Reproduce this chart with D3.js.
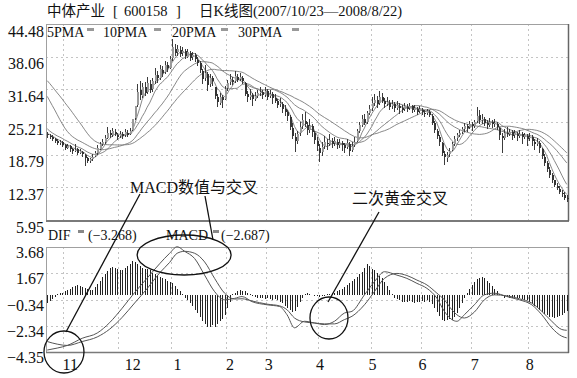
<!DOCTYPE html>
<html>
<head>
<meta charset="utf-8">
<title>中体产业 日K线图</title>
<script src="https://cdn.jsdelivr.net/npm/d3@7/dist/d3.min.js"></script>
<style>
  html, body { margin: 0; padding: 0; background: #fff; }
  svg { display: block; }
  text { font-family: "Liberation Serif", "Noto Sans CJK SC", serif; fill: #111; }
  .cjk { font-family: "Noto Sans CJK SC", sans-serif; }
</style>
</head>
<body>
<svg id="chart" width="577" height="378"></svg>
<script>
// trading days per month, 2007/10 .. 2008/8
const monthDays = [7, 22, 21, 22, 16, 21, 21, 20, 20, 23, 16];
const monthLabels = ['11', '12', '1', '2', '3', '4', '5', '6', '7', '8'];
const monthLabelDays = [9, 34, 52, 73, 88.5, 109, 130, 150, 171, 193];
const priceTicks = [5.95, 12.37, 18.79, 25.21, 31.64, 38.06, 44.48];
const macdTicks = [-4.35, -2.34, -0.34, 1.67, 3.68];

// closes before 2007/10/23 (only used to warm up the moving averages)
const priorClose = [39.2, 39.8, 40.3, 39.5, 38.9, 39.6, 40.1, 39.4, 38.8, 39.5,
  40.2, 39.7, 39.1, 39.6, 40.0, 38.0, 36.2, 33.8, 31.0, 28.6,
  26.8, 25.5, 24.5, 23.9, 23.6, 23.1, 23.3, 22.9, 22.7];

const open = [
  22.9,22.5,22.2,21.9,21.4,21.0,21.2,20.7,20.1,20.4,
  19.9,19.5,19.9,19.1,19.4,18.8,18.1,17.5,17.9,18.5,
  19.1,20.0,20.9,21.3,22.1,23.0,22.7,23.3,22.7,22.4,
  22.8,22.6,23.1,22.8,23.7,26.0,28.6,31.6,30.4,32.0,
  31.2,32.6,31.8,33.3,34.4,33.9,35.5,35.0,36.5,35.9,
  37.8,39.6,38.9,39.4,38.7,39.1,38.0,38.8,37.9,38.3,
  37.5,36.8,35.2,33.8,34.6,32.6,33.8,32.0,30.2,29.0,
  30.1,29.8,31.9,33.0,33.5,33.2,34.1,33.6,33.9,32.9,
  30.7,30.2,30.5,29.8,30.3,31.0,31.1,30.6,31.3,30.3,
  30.7,29.9,29.3,28.7,28.8,27.7,27.1,26.2,24.0,22.3,
  21.5,23.0,24.4,25.5,24.7,23.7,24.4,23.0,21.5,20.2,
  19.3,20.4,21.1,20.9,21.5,21.0,21.3,20.7,21.0,20.6,
  20.3,20.9,19.7,20.6,21.5,23.5,24.7,25.9,25.2,27.0,
  27.9,29.0,29.5,28.9,30.1,29.3,28.8,29.0,28.3,28.7,
  28.0,28.4,27.9,27.7,28.2,27.9,28.3,27.6,27.8,27.3,
  27.6,27.0,26.9,27.2,26.4,25.0,23.5,22.3,21.0,19.0,
  18.2,18.9,19.8,20.9,22.0,22.7,23.2,23.9,24.4,24.2,
  24.8,24.5,25.4,26.5,25.7,25.8,25.0,24.7,25.2,24.9,
  24.9,24.1,22.5,22.1,23.0,22.9,23.2,22.6,22.9,22.5,
  22.8,22.3,22.5,22.0,22.2,21.3,20.9,21.1,19.9,18.4,
  17.1,15.8,14.7,13.8,12.7,12.1,11.3,10.9,10.3];

const high = [
  23.2,22.9,22.6,22.1,21.8,21.7,21.4,20.9,20.9,20.6,
  20.2,20.9,20.1,19.9,19.6,18.9,18.4,18.2,18.9,19.6,
  20.6,21.3,21.9,22.6,24.2,23.6,24.0,23.8,23.1,23.4,
  23.2,23.9,23.6,24.1,25.9,28.4,32.6,33.2,32.8,33.0,
  34.0,33.4,33.9,35.8,35.2,36.5,36.3,37.2,37.0,38.2,
  41.6,40.6,40.3,40.2,40.0,39.6,39.5,39.2,39.0,38.8,
  38.0,37.2,35.6,36.4,35.1,34.6,34.3,32.1,30.8,30.9,
  30.6,32.2,33.4,34.6,34.1,35.2,34.7,34.8,34.2,33.1,
  31.4,31.7,31.0,31.2,31.5,32.1,31.6,32.0,31.8,31.5,
  31.1,30.7,29.8,30.0,29.2,28.6,27.6,26.5,25.0,23.1,
  23.4,25.2,26.8,27.2,25.3,25.9,24.8,23.4,22.2,20.9,
  21.2,22.4,21.9,22.9,22.0,22.3,21.8,21.8,21.5,21.1,
  21.8,21.3,21.2,22.2,23.9,25.3,26.6,26.8,27.4,28.6,
  30.1,30.8,30.4,31.3,31.0,29.9,30.1,29.5,29.6,29.2,
  29.4,28.9,28.5,29.0,28.7,29.0,28.6,28.5,28.2,28.3,
  28.0,27.5,27.8,27.6,26.7,25.4,23.9,22.7,21.3,19.5,
  19.3,20.1,21.3,22.5,23.1,23.7,24.3,25.0,24.9,25.5,
  25.3,25.6,28.2,27.6,26.8,26.2,25.7,26.0,25.7,25.8,
  25.3,24.2,23.0,23.8,24.2,23.9,23.6,23.7,23.3,23.6,
  23.2,23.1,22.9,23.0,22.6,21.8,22.0,21.5,20.2,18.9,
  17.5,16.3,15.1,13.9,13.3,12.6,11.9,11.4,10.8];

const low = [
  22.1,21.8,21.4,21.0,20.6,20.7,20.3,19.8,19.9,19.4,
  19.0,19.3,18.8,18.9,18.3,16.6,17.1,17.2,17.6,18.3,
  18.8,19.7,20.4,20.9,21.8,22.1,22.3,22.4,21.6,22.0,
  21.9,22.3,22.2,22.6,23.5,25.6,28.1,29.6,30.0,30.3,
  30.8,30.9,31.2,32.6,32.9,33.5,34.0,34.6,35.0,35.6,
  37.2,38.1,38.2,38.0,38.2,37.6,37.7,37.3,37.4,37.0,
  36.3,34.8,32.6,33.2,31.4,32.0,32.2,29.8,28.2,28.6,
  27.9,29.5,31.4,32.5,32.4,32.9,33.0,33.2,32.6,30.3,
  29.2,29.6,28.4,29.3,29.9,30.4,29.8,30.1,29.6,29.9,
  28.8,28.9,27.9,28.2,27.0,26.3,25.4,23.6,21.8,19.4,
  20.9,22.4,23.8,24.2,22.6,23.1,22.2,20.8,19.6,17.3,
  18.6,20.0,19.8,20.5,20.1,20.4,19.9,20.2,19.6,19.2,
  19.9,18.5,19.3,20.3,21.2,23.0,24.2,24.6,24.9,26.5,
  27.4,28.3,28.0,28.5,28.9,27.9,28.3,27.6,27.8,27.2,
  27.5,26.8,27.0,27.3,27.1,27.5,26.9,27.1,26.6,26.9,
  26.5,26.2,26.5,26.1,24.6,23.1,21.8,20.4,18.6,16.8,
  17.4,18.4,19.5,20.5,21.4,22.2,22.9,23.3,23.2,23.8,
  23.5,24.1,25.0,24.9,24.8,24.4,23.9,24.2,24.0,24.3,
  23.6,21.6,19.2,21.6,22.2,22.4,21.7,22.1,21.5,22.0,
  20.9,21.8,20.4,21.5,20.5,19.8,20.4,19.1,18.0,16.6,
  15.4,14.3,13.2,12.4,11.8,11.0,10.5,9.8,9.5];

const close = [
  22.6,22.3,21.8,21.5,21.0,21.3,20.6,20.2,20.5,19.9,
  19.6,19.8,19.2,19.5,18.9,18.2,17.6,17.9,18.4,19.2,
  20.1,20.8,21.2,22.0,23.1,22.6,23.4,22.8,22.3,22.9,
  22.5,23.2,22.7,23.5,25.8,28.4,31.2,30.5,32.1,31.0,
  32.8,31.6,33.2,34.5,33.8,35.6,34.9,36.4,35.8,37.6,
  39.9,38.8,39.5,38.6,39.2,38.1,38.9,37.8,38.4,37.6,
  36.9,35.4,33.6,34.8,32.5,33.9,33.2,30.4,29.1,30.2,
  29.6,31.8,32.9,33.6,33.1,34.2,33.5,34.0,33.2,30.8,
  30.1,30.6,29.7,30.4,30.9,31.2,30.5,31.4,30.2,30.8,
  30.0,29.4,28.6,28.9,27.8,27.2,26.4,24.2,22.5,21.4,
  22.8,24.3,25.6,24.8,23.6,24.5,23.2,21.6,20.4,19.2,
  20.3,21.2,20.8,21.6,20.9,21.4,20.6,21.1,20.7,20.2,
  21.0,19.6,20.5,21.3,23.4,24.6,25.8,25.1,26.9,27.8,
  28.9,29.6,28.8,30.2,29.4,28.7,29.1,28.2,28.8,27.9,
  28.5,28.0,27.6,28.3,27.8,28.4,27.5,27.9,27.2,27.7,
  27.1,26.8,27.3,26.6,25.1,23.6,22.4,21.2,19.1,18.3,
  18.8,19.6,20.8,21.9,22.6,23.1,23.8,24.5,24.1,24.9,
  24.4,25.2,26.4,25.6,25.9,25.1,24.6,25.3,24.8,25.0,
  24.3,22.6,22.0,23.1,22.8,23.3,22.5,23.0,22.4,22.9,
  22.2,22.6,21.9,22.3,21.4,20.8,21.2,20.1,18.5,17.2,
  15.9,14.8,13.9,12.8,12.2,11.4,11.0,10.3,10.0];

// MACD histogram, one bar per trading day
const macdBar = [
  -0.6,-0.45,-0.3,-0.15,0.1,0.15,0.2,0.3,0.4,0.5,
  0.6,0.7,0.75,0.72,0.65,0.55,0.45,0.4,0.4,0.6,
  0.85,1.1,1.35,1.6,1.85,2.05,2.15,2.1,2.0,1.9,
  1.95,2.05,2.2,2.4,2.6,2.5,2.4,2.2,2.1,2.0,
  2.0,1.9,1.7,1.6,1.5,1.4,1.3,1.2,1.1,1.0,
  0.9,0.7,0.5,0.3,0.1,-0.2,-0.4,-0.6,-0.8,-1.1,
  -1.4,-1.7,-2.0,-2.2,-2.4,-2.4,-2.3,-2.4,-2.2,-2.0,
  -1.8,-1.5,-1.0,-0.5,0.05,0.2,0.35,0.4,0.35,0.3,
  0.2,0.1,-0.1,-0.15,-0.2,-0.25,-0.2,-0.3,-0.25,-0.3,
  -0.35,-0.3,-0.4,-0.5,-0.6,-0.8,-1.0,-1.1,-1.3,-1.2,
  -0.9,-0.5,-0.2,0.1,0.15,0.1,0.0,-0.05,-0.1,-0.15,
  -0.1,-0.05,0.05,0.1,0.15,0.2,0.3,0.4,0.5,0.6,
  0.75,0.9,1.05,1.2,1.4,1.6,1.8,2.1,2.4,2.2,
  2.0,1.9,1.7,1.5,1.3,1.0,0.7,0.4,0.1,-0.2,
  -0.3,-0.4,-0.5,-0.55,-0.5,-0.45,-0.5,-0.6,-0.55,-0.5,
  -0.45,-0.5,-0.4,-0.5,-0.7,-1.0,-1.3,-1.6,-1.9,-2.0,
  -1.9,-1.8,-1.9,-1.7,-1.4,-1.0,-0.6,-0.2,0.2,0.5,
  0.8,1.0,1.2,1.3,1.4,1.3,1.1,0.9,0.7,0.5,
  0.3,0.1,-0.1,-0.2,-0.15,-0.25,-0.2,-0.15,-0.25,-0.2,
  -0.3,-0.35,-0.4,-0.5,-0.7,-0.85,-1.0,-1.15,-1.3,-1.45,
  -1.55,-1.65,-1.7,-1.75,-1.7,-1.6,-1.5,-1.35,-1.2];

// DIF / DEA read at these trading days
const lineDays = [0, 4, 8, 14, 20, 25, 30, 35, 40, 45, 49, 52, 55, 59, 63, 67, 71, 75, 78, 82,
  88, 93, 96, 99, 103, 107, 111, 115, 119, 122, 127, 131, 135, 140, 144, 148, 152, 156, 159, 162,
  164, 167, 171, 175, 179, 184, 189, 194, 198, 202, 206, 208];
const dif = [-4.2, -4.05, -3.85, -3.3, -2.9, -2.1, -1.0, 0.2, 1.3, 2.4, 3.2, 3.7, 3.35, 2.8, 1.53, 0.27, -0.36, -0.25, -0.11, -0.5,
  -0.74, -0.87, -1.5, -2.5, -2.0, -2.13, -2.25, -2.0, -1.37, -1.24, 0.02, 1.03, 1.79, 1.53, 1.28, 0.9, 0.52, -0.23, -1.24, -1.87,
  -2.0, -1.5, -0.74, 0.02, 0.15, -0.11, -0.36, -0.74, -1.5, -2.5, -3.14, -3.27];
const dea = [-3.55, -3.75, -3.85, -3.55, -3.2, -2.6, -1.7, -0.6, 0.5, 1.7, 2.5, 3.2, 3.35, 3.2, 2.54, 1.28, 0.15, -0.3, -0.28, -0.45,
  -0.69, -0.82, -1.12, -1.75, -2.05, -2.13, -2.2, -2.2, -1.87, -1.62, -0.74, 0.27, 1.28, 1.66, 1.5, 1.15, 0.78, 0.15, -0.36, -1.12,
  -1.5, -1.75, -1.3, -0.36, 0.02, -0.05, -0.28, -0.61, -1.24, -2.0, -2.63, -2.69];

const maPeriods = [5, 10, 20, 30];

const svg = d3.select('#chart');
const nDays = close.length;
const days = d3.range(nDays);
const left = 46, right = 568;

const xc = d3.scaleLinear().domain([-0.5, nDays - 0.5]).range([left, right]);
const yP = d3.scaleLinear().domain([5.95, 44.48]).range([220, 24]);
const yM = d3.scaleLinear().domain([-4.35, 3.68]).range([352, 247]);

const monthStarts = Array.from(d3.cumsum(monthDays)).slice(0, -1);

// dashed grid for a panel
function drawGrid(y, ticks) {
  const g = svg.append('g')
    .attr('stroke', '#c4c4c4')
    .attr('stroke-dasharray', '2,3')
    .attr('stroke-width', 1);
  g.selectAll('line.h').data(ticks.slice(1, -1)).join('line')
    .attr('class', 'h')
    .attr('x1', left).attr('x2', right)
    .attr('y1', d => Math.round(y(d)) + 0.5).attr('y2', d => Math.round(y(d)) + 0.5);
  g.selectAll('line.v').data(monthStarts).join('line')
    .attr('class', 'v')
    .attr('x1', d => Math.round(xc(d - 0.5)) + 0.5).attr('x2', d => Math.round(xc(d - 0.5)) + 0.5)
    .attr('y1', y.range()[1]).attr('y2', y.range()[0]);
}
drawGrid(yP, priceTicks);
drawGrid(yM, macdTicks);

// panel frames
svg.append('rect').attr('x', left + 0.5).attr('y', 24.5).attr('width', right - left).attr('height', 196)
  .attr('fill', 'none').attr('stroke', '#a0a0a0');
svg.append('rect').attr('x', left + 0.5).attr('y', 247.5).attr('width', right - left).attr('height', 105)
  .attr('fill', 'none').attr('stroke', '#a0a0a0');
svg.append('line').attr('x1', left).attr('x2', right + 1).attr('y1', 221).attr('y2', 221)
  .attr('stroke', '#7a7a7a').attr('stroke-width', 2);
svg.append('line').attr('x1', left).attr('x2', right + 1).attr('y1', 352.5).attr('y2', 352.5)
  .attr('stroke', '#7a7a7a').attr('stroke-width', 1.5);
[[24, 221], [247, 353]].forEach(([a, b]) => {
  svg.append('line').attr('x1', right + 0.5).attr('x2', right + 0.5).attr('y1', a).attr('y2', b)
    .attr('stroke', '#666').attr('stroke-width', 1.5);
});

// moving averages
const allClose = priorClose.concat(close);
const off = priorClose.length;
const maLine = d3.line().x((d, i) => xc(i)).y(d => yP(d));
maPeriods.forEach(n => {
  const vals = days.map(i => d3.mean(allClose.slice(off + i - n + 1, off + i + 1)));
  svg.append('path').datum(vals)
    .attr('d', maLine)
    .attr('fill', 'none')
    .attr('stroke', '#7a7a7a')
    .attr('stroke-width', 0.9);
});

// candles
const cg = svg.append('g').attr('shape-rendering', 'crispEdges');
cg.selectAll('line').data(days).join('line')
  .attr('x1', i => Math.round(xc(i)) + 0.5).attr('x2', i => Math.round(xc(i)) + 0.5)
  .attr('y1', i => yP(high[i])).attr('y2', i => yP(low[i]))
  .attr('stroke', '#3c3c3c').attr('stroke-width', 1);
cg.selectAll('rect').data(days).join('rect')
  .attr('x', i => Math.round(xc(i)) - 0.5).attr('width', 2)
  .attr('y', i => yP(Math.max(open[i], close[i])))
  .attr('height', i => Math.max(1, Math.abs(yP(open[i]) - yP(close[i]))))
  .attr('fill', i => close[i] >= open[i] ? '#9a9a9a' : '#333');

// MACD histogram
svg.append('g').attr('shape-rendering', 'crispEdges')
  .selectAll('line').data(days).join('line')
  .attr('x1', i => Math.round(xc(i)) + 0.5).attr('x2', i => Math.round(xc(i)) + 0.5)
  .attr('y1', yM(0)).attr('y2', i => yM(macdBar[i]))
  .attr('stroke', '#222').attr('stroke-width', 1);

// DIF / DEA
const mLine = d3.line().x((d, k) => xc(lineDays[k])).y(d => yM(d)).curve(d3.curveMonotoneX);
[dif, dea].forEach(s => {
  svg.append('path').datum(s)
    .attr('d', mLine)
    .attr('fill', 'none')
    .attr('stroke', '#555')
    .attr('stroke-width', 1);
});

// value axes
const fmt = d3.format('.2f');
function valueAxis(y, ticks, dy) {
  svg.append('g')
    .attr('transform', `translate(${left},0)`)
    .call(d3.axisLeft(y).tickValues(ticks).tickSize(0).tickPadding(2).tickFormat(fmt))
    .call(g => g.select('.domain').remove())
    .call(g => g.selectAll('text')
      .attr('y', dy)
      .style('font-family', '"Liberation Serif", serif')
      .style('font-size', '16px')
      .style('fill', '#111'));
}
valueAxis(yP, priceTicks, 7);
valueAxis(yM, macdTicks, 5.5);

// month axis
svg.append('g')
  .attr('transform', 'translate(0,352)')
  .call(d3.axisBottom(xc).tickValues(monthLabelDays).tickSize(0).tickPadding(7)
    .tickFormat((d, i) => monthLabels[i]))
  .call(g => g.select('.domain').remove())
  .call(g => g.selectAll('text')
    .style('font-family', '"Liberation Serif", serif')
    .style('font-size', '16px')
    .style('fill', '#111'));

// title
const title = svg.append('text').attr('y', 16).style('font-size', '14.5px');
title.append('tspan').attr('x', 47).attr('class', 'cjk').text('中体产业');
title.append('tspan').attr('x', 113).text('[');
title.append('tspan').attr('x', 124).text('600158');
title.append('tspan').attr('x', 176).text(']');
title.append('tspan').attr('x', 199).attr('class', 'cjk').text('日');
title.append('tspan').text('K');
title.append('tspan').attr('class', 'cjk').text('线图');
title.append('tspan').text('(2007/10/23—2008/8/22)');

// legends
const maLegend = [['5PMA', 47, 87], ['10PMA', 103, 154], ['20PMA', 172, 221], ['30PMA', 238, 292]];
maLegend.forEach(([t, tx, sx]) => {
  svg.append('text').attr('x', tx).attr('y', 37).style('font-size', '14px').text(t);
  svg.append('rect').attr('x', sx).attr('y', 28).attr('width', 7).attr('height', 3).attr('fill', '#999');
});
const macdLegend = [['DIF', 48, 78, '(−3.268)', 88], ['MACD', 166, 213, '(−2.687)', 221]];
macdLegend.forEach(([t, tx, sx, v, vx]) => {
  svg.append('text').attr('x', tx).attr('y', 240).style('font-size', '14px').text(t);
  svg.append('rect').attr('x', sx).attr('y', 230).attr('width', 6).attr('height', 3).attr('fill', '#888');
  svg.append('text').attr('x', vx).attr('y', 240).style('font-size', '14px').text(v);
});

// annotations
const ann = svg.append('g').attr('fill', 'none').attr('stroke', '#111').attr('stroke-width', 1.3);
ann.append('ellipse').attr('cx', xc(6.7)).attr('cy', yM(-4.35)).attr('rx', 20).attr('ry', 21);
ann.append('ellipse').attr('cx', xc(54.8)).attr('cy', yM(3.07)).attr('rx', 47).attr('ry', 20);
ann.append('ellipse').attr('cx', xc(112.8)).attr('cy', yM(-1.75)).attr('rx', 19).attr('ry', 21);
ann.append('line').attr('x1', 140).attr('y1', 194).attr('x2', 66).attr('y2', 332);
ann.append('line').attr('x1', 205).attr('y1', 196).attr('x2', 213).attr('y2', 240);
ann.append('line').attr('x1', 379).attr('y1', 212).attr('x2', 328).attr('y2', 302);

const a1 = svg.append('text').attr('x', 130).attr('y', 193).style('font-size', '16px');
a1.append('tspan').text('MACD');
a1.append('tspan').attr('class', 'cjk').text('数值与交叉');
svg.append('text').attr('x', 352).attr('y', 204).attr('class', 'cjk').style('font-size', '16px').text('二次黄金交叉');
</script>
</body>
</html>
